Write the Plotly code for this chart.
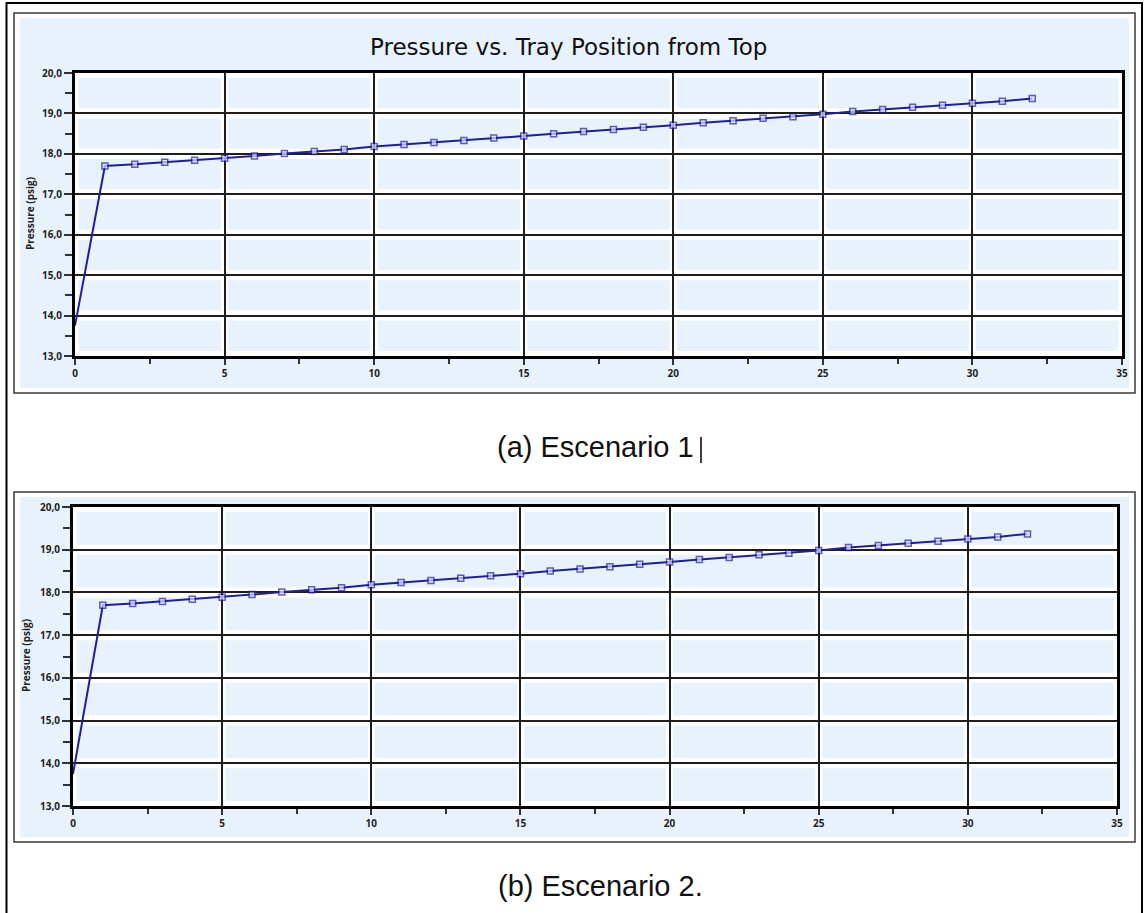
import plotly.graph_objects as go

# Tray position from top and column pressure (psig) for each scenario
trays = list(range(0, 33))
pressure_s1 = [13.75, 17.70, 17.74, 17.79, 17.84, 17.89, 17.95, 18.01, 18.06, 18.11,
               18.18, 18.23, 18.28, 18.33, 18.39, 18.44, 18.50, 18.55, 18.60, 18.66,
               18.71, 18.77, 18.82, 18.88, 18.92, 18.98, 19.05, 19.10, 19.15, 19.20,
               19.25, 19.30, 19.37]
pressure_s2 = [13.75, 17.70, 17.74, 17.79, 17.84, 17.89, 17.95, 18.01, 18.06, 18.11,
               18.18, 18.23, 18.28, 18.33, 18.39, 18.44, 18.50, 18.55, 18.60, 18.66,
               18.71, 18.77, 18.82, 18.88, 18.92, 18.98, 19.05, 19.10, 19.15, 19.20,
               19.25, 19.30, 19.37]

chart_title = "Pressure vs. Tray Position from Top"
y_title = "Pressure (psig)"
captions = ["(a) Escenario 1", "(b) Escenario 2."]

W, H = 1145, 913
PANEL = "#e8f2fd"
LINE = "#1f1f9e"


def fx(p):
    return p / W


def fy(p):
    return 1 - p / H


fig = go.Figure()

for idx, ys in enumerate([pressure_s1, pressure_s2]):
    sfx = "" if idx == 0 else str(idx + 1)
    fig.add_trace(go.Scatter(
        x=trays, y=ys, mode="lines+markers",
        xaxis="x" + sfx, yaxis="y" + sfx,
        line=dict(color=LINE, width=2),
        marker=dict(symbol="square", size=[0] + [6] * (len(ys) - 1),
                    color="#dde3ff", line=dict(color=LINE, width=1.5)),
        showlegend=False, hoverinfo="x+y",
    ))

# plot-area boxes in pixels: (left, right, top, bottom)
plots = [(75, 1122, 73, 356), (73, 1117, 507, 806)]
tick_font = dict(family="Open Sans", size=10, color="#1e1e1e", weight=700)

layout = dict(
    width=W, height=H, margin=dict(l=0, r=0, t=0, b=0),
    paper_bgcolor="white", plot_bgcolor=PANEL,
    separators=",.",
    showlegend=False,
)

for idx, (l, r, t, b) in enumerate(plots):
    sfx = "" if idx == 0 else str(idx + 1)
    xa = dict(
        domain=[fx(l), fx(r)], range=[0, 35], anchor="y" + sfx,
        tickmode="linear", tick0=0, dtick=5,
        showgrid=True, gridcolor="#1e1e1e", gridwidth=2,
        showline=True, linecolor="black", linewidth=3, mirror=True,
        ticks="outside", ticklen=6, tickwidth=1.5, tickcolor="#333",
        minor=dict(ticks="outside", dtick=2.5, ticklen=5, tickcolor="#333", showgrid=False),
        tickfont=tick_font, zeroline=False, fixedrange=True, automargin=False,
    )
    ya = dict(
        domain=[fy(b), fy(t)], range=[13, 20], anchor="x" + sfx,
        tickmode="linear", tick0=13, dtick=1, tickformat=".1f",
        showgrid=True, gridcolor="#1e1e1e", gridwidth=2,
        showline=True, linecolor="black", linewidth=3, mirror=True,
        ticks="outside", ticklen=8, tickwidth=1.5, tickcolor="#333",
        minor=dict(ticks="outside", dtick=0.5, ticklen=7, tickcolor="#333", showgrid=False),
        tickfont=tick_font, zeroline=False, fixedrange=True, automargin=False,
    )
    layout["xaxis" + sfx] = xa
    layout["yaxis" + sfx] = ya

fig.update_layout(**layout)


def pt(x, y):
    return f"{fx(x):.5f},{fy(y):.5f}"


shapes = []
# outer document frame: left, top and right edges (the bottom runs off the page)
shapes.append(dict(type="path", xref="paper", yref="paper",
                   path=f"M{pt(6.5, 913)} L{pt(6.5, 3)} L{pt(1142, 3)} L{pt(1142, 913)}",
                   line=dict(color="black", width=2), layer="below"))
# chart frames and their light panels
for (ft, fb) in [(13, 393), (492, 842)]:
    shapes.append(dict(type="rect", xref="paper", yref="paper",
                       x0=fx(14), x1=fx(1135), y0=fy(fb), y1=fy(ft),
                       line=dict(color="#3a3a3a", width=1.5), fillcolor="white", layer="below"))
    shapes.append(dict(type="rect", xref="paper", yref="paper",
                       x0=fx(20), x1=fx(1129), y0=fy(fb - 5), y1=fy(ft + 5),
                       line=dict(width=0), fillcolor=PANEL, layer="below"))
# white gutters around the grid lines
for idx in range(2):
    sfx = "" if idx == 0 else str(idx + 1)
    for v in range(0, 36, 5):
        shapes.append(dict(type="line", xref="x" + sfx, yref="y" + sfx,
                           x0=v, x1=v, y0=13, y1=20,
                           line=dict(color="white", width=7), layer="below"))
    for h in range(13, 21):
        shapes.append(dict(type="line", xref="x" + sfx, yref="y" + sfx,
                           x0=0, x1=35, y0=h, y1=h,
                           line=dict(color="white", width=10), layer="below"))
# text cursor after the first caption
shapes.append(dict(type="line", xref="paper", yref="paper",
                   x0=fx(701), x1=fx(701), y0=fy(463), y1=fy(437),
                   line=dict(color="black", width=1.5)))
fig.update_layout(shapes=shapes)

annotations = [
    dict(text=chart_title, x=fx(568), y=fy(47), xref="paper", yref="paper",
         showarrow=False, xanchor="center", yanchor="middle",
         font=dict(family="DejaVu Sans", size=23, color="#111")),
    dict(text=y_title, x=fx(30), y=fy(214), xref="paper", yref="paper",
         showarrow=False, textangle=-90, xanchor="center", yanchor="middle",
         font=dict(family="Open Sans", size=10, color="#222", weight=700)),
    dict(text=y_title, x=fx(26), y=fy(656), xref="paper", yref="paper",
         showarrow=False, textangle=-90, xanchor="center", yanchor="middle",
         font=dict(family="Open Sans", size=10, color="#222", weight=700)),
    dict(text=captions[0], x=fx(596), y=fy(447), xref="paper", yref="paper",
         showarrow=False, xanchor="center", yanchor="middle",
         font=dict(family="Liberation Sans", size=29, color="#111")),
    dict(text=captions[1], x=fx(600), y=fy(886), xref="paper", yref="paper",
         showarrow=False, xanchor="center", yanchor="middle",
         font=dict(family="Liberation Sans", size=29, color="#111")),
]
fig.update_layout(annotations=annotations)

# the page body gets no default margin so the figure fills the window
fig.write_html("out.html",
               post_script="document.body.style.margin='0px';"
                           "document.documentElement.style.overflow='hidden';")
